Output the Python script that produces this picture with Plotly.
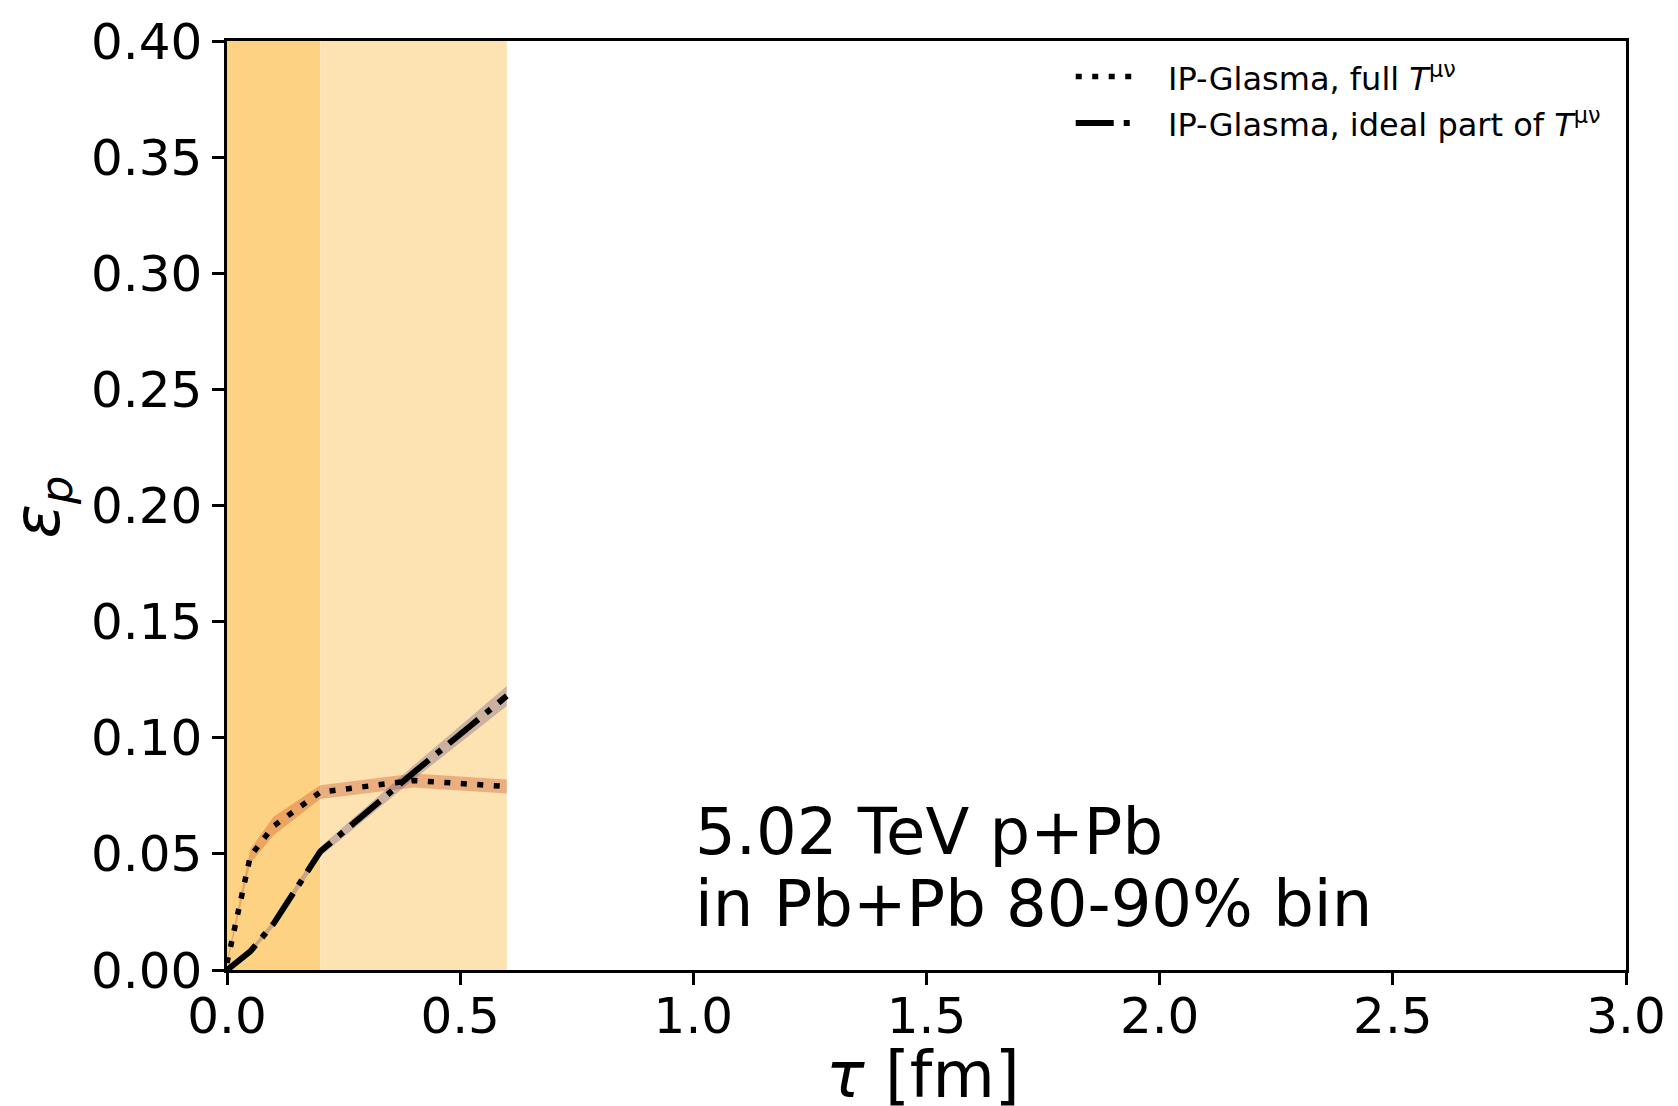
import plotly.graph_objects as go

# ---------------- data ----------------
tau_full = [0.0, 0.05, 0.1, 0.2, 0.4, 0.6]
eps_full = [0.003, 0.049, 0.062, 0.0766, 0.0816, 0.079]
err_full = [0.001, 0.003, 0.004, 0.003, 0.003, 0.003]

tau_ideal = [0.0, 0.05, 0.1, 0.2, 0.4, 0.6]
eps_ideal = [0.0, 0.008, 0.020, 0.051, 0.085, 0.118]
err_ideal = [0.0005, 0.001, 0.0015, 0.002, 0.003, 0.0043]

region_dark = [0.0, 0.2]
region_light = [0.2, 0.6]

legend_labels = ["IP-Glasma, full <i>T</i><sup>μν</sup>",
                 "IP-Glasma, ideal part of <i>T</i><sup>μν</sup>"]
note_lines = ["5.02 TeV p+Pb", "in Pb+Pb 80-90% bin"]

x_ticks = [0.0, 0.5, 1.0, 1.5, 2.0, 2.5, 3.0]
y_ticks = [0.0, 0.05, 0.10, 0.15, 0.20, 0.25, 0.30, 0.35, 0.40]

# ---------------- layout geometry ----------------
W, H = 1678, 1106
L, R, T, B = 227, 1638, 31, 970
FONT = "DejaVu Sans"


def px(x):
    return (x - L) / (R - L)


def py(y):
    return (B - y) / (B - T)


fig = go.Figure()


def band(x, y, e, color):
    upper = [a + b for a, b in zip(y, e)]
    lower = [a - b for a, b in zip(y, e)]
    fig.add_trace(go.Scatter(
        x=list(x) + list(x)[::-1], y=upper + lower[::-1],
        fill="toself", fillcolor=color, line=dict(width=0),
        mode="lines", hoverinfo="skip", showlegend=False))


band(tau_full, eps_full, err_full, "rgba(205,90,45,0.38)")
band(tau_ideal, eps_ideal, err_ideal, "rgba(100,80,125,0.33)")

DOT = "6px,10.5px"
DASHDOT = "38px,10px,6px,10px"

fig.add_trace(go.Scatter(x=tau_full, y=eps_full, mode="lines",
                         line=dict(color="black", width=5.5, dash=DOT),
                         showlegend=False))
fig.add_trace(go.Scatter(x=tau_ideal, y=eps_ideal, mode="lines",
                         line=dict(color="black", width=6, dash=DASHDOT),
                         showlegend=False))

# shaded time regions
fig.add_shape(type="rect", xref="x", yref="y", x0=region_dark[0], x1=region_dark[1],
              y0=0, y1=0.4, fillcolor="#FDD283", line=dict(width=0), layer="below")
fig.add_shape(type="rect", xref="x", yref="y", x0=region_light[0], x1=region_light[1],
              y0=0, y1=0.4, fillcolor="#FEE3B2", line=dict(width=0), layer="below")

# manual legend
legend_y = [67, 114]
fig.add_shape(type="line", xref="paper", yref="paper",
              x0=px(1083), x1=px(1142), y0=py(legend_y[0]), y1=py(legend_y[0]),
              line=dict(color="black", width=5.5, dash=DOT))
fig.add_shape(type="line", xref="paper", yref="paper",
              x0=px(1083), x1=px(1142), y0=py(legend_y[1]), y1=py(legend_y[1]),
              line=dict(color="black", width=6, dash=DASHDOT))
for lab, yy in zip(legend_labels, legend_y):
    fig.add_annotation(text=lab, xref="paper", yref="paper", x=px(1174), y=py(yy),
                       xanchor="left", yanchor="middle", showarrow=False,
                       font=dict(family=FONT, size=32, color="black"))

# note text
for line, yy in zip(note_lines, [831, 903]):
    fig.add_annotation(text=line, xref="paper", yref="paper", x=px(697), y=py(yy),
                       xanchor="left", yanchor="middle", showarrow=False,
                       font=dict(family=FONT, size=64, color="black"))

# axis titles
fig.add_annotation(text="<i>τ</i> [fm]", xref="paper", yref="paper", x=px(929), y=py(1076),
                   xanchor="center", yanchor="middle", showarrow=False,
                   font=dict(family=FONT, size=64, color="black"))
fig.add_annotation(text="<i>ε</i><sub><i>p</i></sub>", xref="paper", yref="paper",
                   x=px(40), y=py(502), textangle=-90,
                   xanchor="center", yanchor="middle", showarrow=False,
                   font=dict(family=FONT, size=64, color="black"))

axis_common = dict(showline=True, linecolor="black", linewidth=2.5, mirror=True,
                   ticks="outside", ticklen=12, tickwidth=2.5, tickcolor="black",
                   showgrid=False, zeroline=False,
                   tickfont=dict(family=FONT, size=50, color="black"))

fig.update_xaxes(range=[0, 3.0], tickvals=x_ticks, ticklabelstandoff=-12,
                 ticktext=[f"{v:.1f}" for v in x_ticks], **axis_common)
fig.update_yaxes(range=[0, 0.4], tickvals=y_ticks,
                 ticktext=[f"{v:.2f}" for v in y_ticks], **axis_common)

fig.update_layout(width=W, height=H,
                  margin=dict(l=L, r=W - R, t=T, b=H - B, pad=0),
                  plot_bgcolor="white", paper_bgcolor="white",
                  showlegend=False)

fig.write_html("out.html")
